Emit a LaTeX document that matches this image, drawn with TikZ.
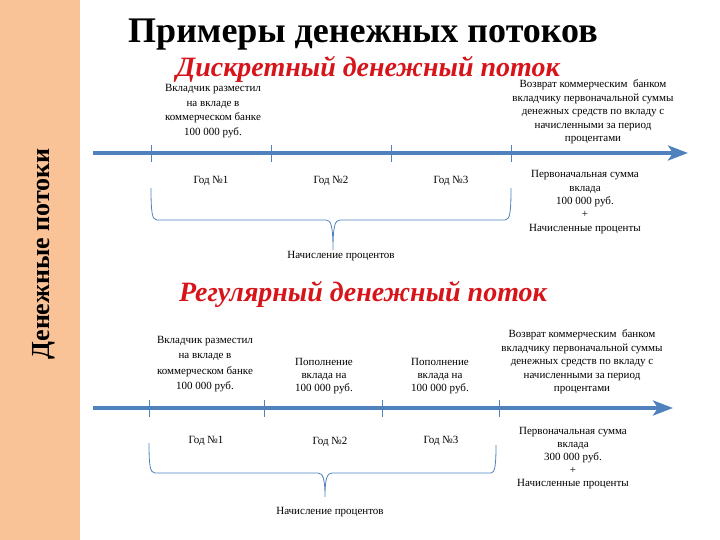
\documentclass[tikz,border=0pt]{standalone}
\usepackage{fontspec}
\setmainfont{Liberation Serif}
\usetikzlibrary{arrows.meta}
\definecolor{bandpeach}{RGB}{249,194,151}
\definecolor{axisblue}{RGB}{79,129,189}
\definecolor{flowred}{RGB}{215,20,25}
\begin{document}
\begin{tikzpicture}[x=1pt,y=-1pt,
    txt/.style={align=center,inner sep=0pt,font=\fontsize{11}{13.4}\selectfont},
    txtwide/.style={txt,font=\fontsize{11}{14.8}\selectfont},
    timeaxis/.style={axisblue,line width=4pt,-{Stealth[length=20pt,width=15pt,inset=5pt]}},
    yeartick/.style={axisblue,line width=0.8pt},
    bracepath/.style={axisblue,line width=0.8pt},
    flowtitle/.style={flowred,inner sep=0pt,font=\fontsize{28}{32}\selectfont\bfseries\itshape}]
    \useasboundingbox (0,0) rectangle (720,540);
    \fill[bandpeach] (0,0) rectangle (80,540);
    \node[rotate=90,inner sep=0pt,font=\fontsize{26}{30}\selectfont\bfseries] (side) at (44,254) {Денежные потоки};
    \node[inner sep=0pt,font=\fontsize{36}{40}\selectfont\bfseries] (title) at (363,35) {Примеры денежных потоков};
    \node[flowtitle] (disc) at (368,69) {Дискретный денежный поток};
    \node[txtwide] (d_in) at (213,111) {Вкладчик разместил\\на вкладе в\\коммерческом банке\\100 000 руб.};
    \node[txt] (d_out) at (593,112) {Возврат коммерческим~ банком\\вкладчику первоначальной суммы\\денежных средств по вкладу с\\начисленными за период\\процентами};
    \coordinate (d_start) at (93,153);
    \coordinate (d_end) at (688,153);
    \draw[timeaxis] (d_start) -- (d_end);
    \draw[yeartick] (151,145) -- (151,162);
    \draw[yeartick] (271,145) -- (271,162);
    \draw[yeartick] (391,145) -- (391,162);
    \draw[yeartick] (511,145) -- (511,162);
    \node[txt] (d_y1) at (211,181) {Год №1};
    \node[txt] (d_y2) at (331,181) {Год №2};
    \node[txt] (d_y3) at (451,181) {Год №3};
    \node[txt] (d_sum) at (585,202) {Первоначальная сумма\\вклада\\100 000 руб.\\+\\Начисленные проценты};
    \coordinate (d_tip) at (333,250);
    \draw[bracepath] (151,188) .. controls (151,212) and (152,220) .. (157,220) -- (326,220) .. controls (331,220) and (333,226) .. (d_tip) .. controls (333,226) and (335,220) .. (340,220) -- (505,220) .. controls (510,220) and (511,212) .. (511,188);
    \node[txt,below=1pt] (d_pct) at (d_tip -| 341,250) {Начисление процентов};
    \node[flowtitle] (reg) at (363,294) {Регулярный денежный поток};
    \node[txtwide,font=\fontsize{11}{15.2}\selectfont] (r_in) at (205,364) {Вкладчик разместил\\на вкладе в\\коммерческом банке\\100 000 руб.};
    \node[txt,font=\fontsize{11}{13.2}\selectfont] (r_add1) at (324,376) {Пополнение\\вклада на\\100 000 руб.};
    \node[txt,font=\fontsize{11}{13.2}\selectfont] (r_add2) at (440,376) {Пополнение\\вклада на\\100 000 руб.};
    \node[txt] (r_out) at (582,362) {Возврат коммерческим~ банком\\вкладчику первоначальной суммы\\денежных средств по вкладу с\\начисленными за период\\процентами};
    \coordinate (r_start) at (93,408);
    \coordinate (r_end) at (673,408);
    \draw[timeaxis] (r_start) -- (r_end);
    \draw[yeartick] (149,400) -- (149,417);
    \draw[yeartick] (264,400) -- (264,417);
    \draw[yeartick] (382,400) -- (382,417);
    \draw[yeartick] (499,400) -- (499,417);
    \node[txt] (r_y1) at (206,441) {Год №1};
    \node[txt] (r_y2) at (330,442) {Год №2};
    \node[txt] (r_y3) at (441,441) {Год №3};
    \node[txt,font=\fontsize{11}{13}\selectfont] (r_sum) at (573,458) {Первоначальная сумма\\вклада\\300 000 руб.\\+\\Начисленные проценты};
    \coordinate (r_tip) at (325,497);
    \draw[bracepath] (149,443) .. controls (149,465) and (150,473) .. (155,473) -- (318,473) .. controls (323,473) and (325,479) .. (r_tip) .. controls (325,479) and (327,473) .. (332,473) -- (491,473) .. controls (495,473) and (496,465) .. (496,445);
    \node[txt,below=1pt] (r_pct) at (330,506) {Начисление процентов};
\end{tikzpicture}
\end{document}
